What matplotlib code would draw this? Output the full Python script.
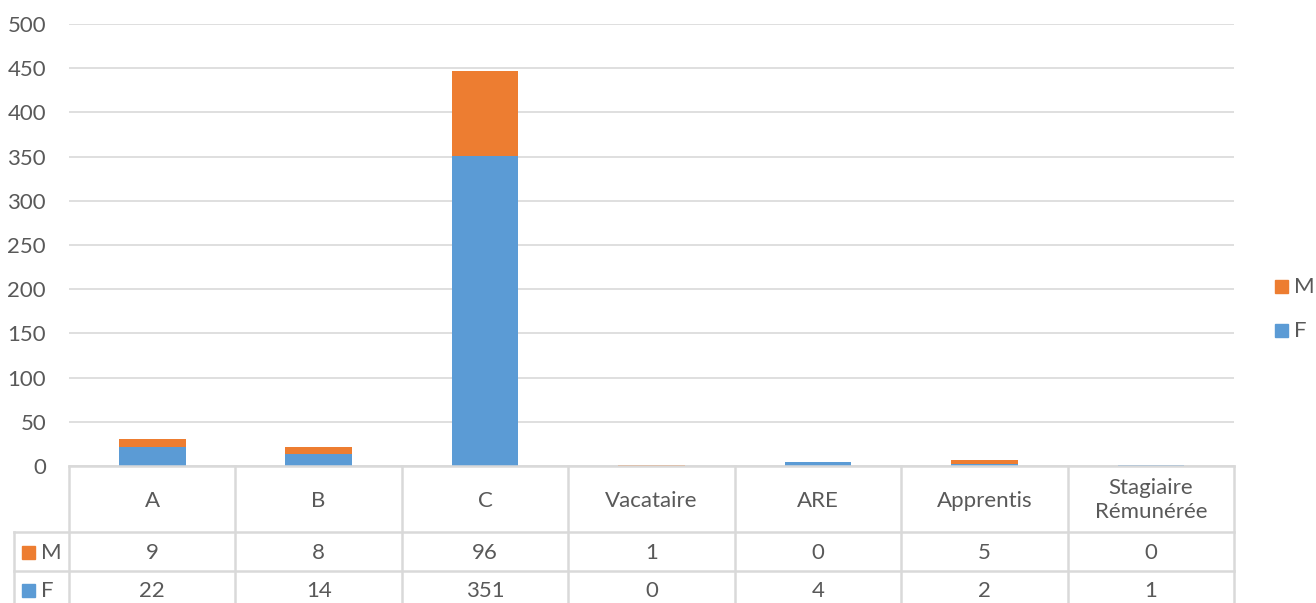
import matplotlib
matplotlib.use("Agg")
import matplotlib.pyplot as plt
from matplotlib.patches import Rectangle
from matplotlib.lines import Line2D

plt.rcParams['font.family'] = ['Lato', 'DejaVu Sans']

categories = ["A", "B", "C", "Vacataire", "ARE", "Apprentis", "Stagiaire\nRémunérée"]
f_values = [22, 14, 351, 0, 4, 2, 1]
m_values = [9, 8, 96, 1, 0, 5, 0]
yticks = [0, 50, 100, 150, 200, 250, 300, 350, 400, 450, 500]

BLUE = "#5B9BD5"
ORANGE = "#ED7D31"
GRID = "#D9D9D9"
TXT = "#595959"
FS = 16

W, H = 1316, 603
fig = plt.figure(figsize=(W / 100, H / 100), dpi=100)

# plot area in pixels
x0, x1, ytop, ybot = 69, 1234, 24, 466
ax = fig.add_axes([x0 / W, 1 - ybot / H, (x1 - x0) / W, (ybot - ytop) / H])

xs = range(len(categories))
ax.bar(xs, f_values, width=0.4, color=BLUE, zorder=3)
ax.bar(xs, m_values, width=0.4, bottom=f_values, color=ORANGE, zorder=3)

ax.set_xlim(-0.5, len(categories) - 0.5)
ax.set_ylim(0, 500)
ax.set_yticks(yticks)
ax.set_yticklabels([str(v) for v in yticks], fontsize=FS, color=TXT)
ax.tick_params(axis="y", length=0, pad=16.5)
ax.set_xticks([])
ax.yaxis.grid(True, color=GRID, linewidth=1.2, zorder=0)
for s in ax.spines.values():
    s.set_visible(False)


# data table under the axis, drawn in pixel coordinates
def px(x, y):
    return x / W, 1 - y / H


def hline(xa, xb, y):
    fig.add_artist(Line2D([xa / W, xb / W], [1 - y / H, 1 - y / H],
                          color=GRID, linewidth=1.8))


def vline(x, ya, yb):
    fig.add_artist(Line2D([x / W, x / W], [1 - ya / H, 1 - yb / H],
                          color=GRID, linewidth=1.8))


def key(x, base, name, color):
    # colour square sitting on the text baseline, then the series name
    fig.add_artist(Rectangle(px(x, base), 13 / W, 13 / H, color=color))
    fig.text(*px(x + 19, base), name, ha="left", va="baseline",
             fontsize=FS, color=TXT)


row_top, row_hdr, row_m = 466, 532, 571
col_w = (x1 - x0) / len(categories)
hline(x0, x1, row_top)
hline(14, x1, row_hdr)
hline(14, x1, row_m)
vline(14, row_hdr, H)
for i in range(len(categories) + 1):
    vline(x0 + i * col_w, row_top, H)

hdr_base, m_base, f_base = 507, 559, 597
for i, cat in enumerate(categories):
    cx = x0 + (i + 0.5) * col_w
    if "\n" in cat:
        fig.text(*px(cx, 500), cat, ha="center", va="center",
                 fontsize=FS, color=TXT, linespacing=1.2)
    else:
        fig.text(*px(cx, hdr_base), cat, ha="center", va="baseline",
                 fontsize=FS, color=TXT)
    fig.text(*px(cx, m_base), str(m_values[i]), ha="center", va="baseline",
             fontsize=FS, color=TXT)
    fig.text(*px(cx, f_base), str(f_values[i]), ha="center", va="baseline",
             fontsize=FS, color=TXT)

# legend keys inside the table
key(22, m_base, "M", ORANGE)
key(22, f_base, "F", BLUE)

# legend on the right
key(1275, 293, "M", ORANGE)
key(1275, 337, "F", BLUE)

fig.savefig("out.png", dpi=100)
